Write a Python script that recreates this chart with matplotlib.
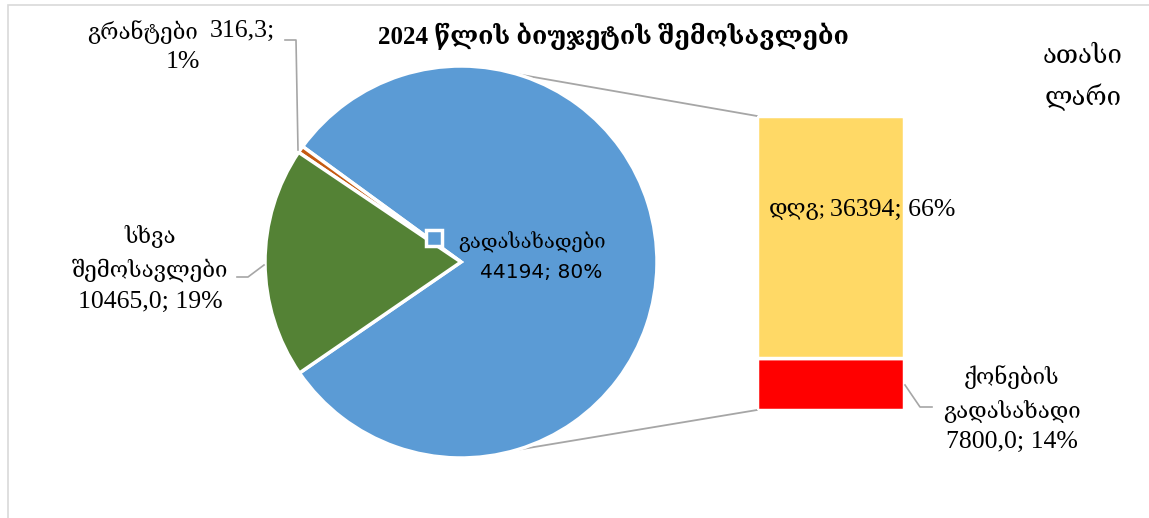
import numpy as np
import matplotlib
matplotlib.use("Agg")
import matplotlib.pyplot as plt
from matplotlib.patches import ConnectionPatch, Rectangle

# ---------------* data *----------------------
pie_labels = ["გადასახადები", "გრანტები", "სხვა შემოსავლები"]
pie_values = [44194, 316.3, 10465.0]
pie_colors = ["#5B9BD5", "#C55A11", "#548235"]

bar_labels = ["ქონების გადასახადი", "დღგ"]
bar_values = [7800.0, 36394]
bar_colors = ["#FF0000", "#FFD966"]

title = "2024 წლის ბიუჯეტის შემოსავლები"
unit = ["ათასი", "ლარი"]

SERIF = ["Liberation Serif", "DejaVu Serif", "DejaVu Sans"]
SANS = ["DejaVu Sans"]
GEO = 16     # size of georgian text
NUM = 18.5   # size of numbers
LEAD = "#A6A6A6"

W, H = 1149, 518
fig = plt.figure(figsize=(W / 100, H / 100), dpi=100)

# main axes in pixel units (y up)
ax = fig.add_axes([0, 0, 1, 1])
ax.set_zorder(2)
cx, cy, r = 461, H - 262, 196
ax.pie(pie_values, colors=pie_colors, startangle=214.5, counterclock=True,
       center=(cx, cy), radius=r,
       wedgeprops=dict(edgecolor="white", linewidth=2.5))
ax.set_xlim(0, W)
ax.set_ylim(0, H)
ax.set_aspect("equal")
ax.axis("off")


def ty(y):
    return H - y


def fmt(v):
    return f"{v:.1f}".replace(".", ",")


def txt(x, y, s, size, ha="center", family=SERIF, **kw):
    ax.text(x, ty(y), s, ha=ha, va="center", fontsize=size, family=family, **kw)


# ---------------* bar part *----------------------
ax2 = fig.add_axes([757 / W, (H - 410) / H, 147 / W, 294 / H])
ax2.set_zorder(1)
bottom = 0
for v, c in zip(bar_values, bar_colors):
    ax2.bar(0, v, bottom=bottom, width=1, color=c, edgecolor="white", linewidth=2.5)
    bottom += v
ax2.set_xlim(-0.5, 0.5)
ax2.set_ylim(0, sum(bar_values))
ax2.axis("off")

# connector lines pie -> bar
for ang, yb in [(73.5, sum(bar_values)), (-73.5, 0)]:
    p = (cx + r * np.cos(np.radians(ang)), cy + r * np.sin(np.radians(ang)))
    con = ConnectionPatch(xyA=p, coordsA=ax.transData, xyB=(-0.5, yb), coordsB=ax2.transData,
                          color=LEAD, linewidth=1.3)
    fig.add_artist(con)

# ---------------* labels *----------------------
total = sum(pie_values)
pct = [round(v / total * 100) for v in pie_values]

txt(613, 36, title, 18, fontweight="bold")
txt(1083, 57, unit[0], 18.5)
txt(1083, 97, unit[1], 18.5)

# taxes label inside the pie
ax.plot([434], [ty(238)], marker="s", ms=11, mfc=pie_colors[0], mec="white", mew=2.5)
txt(532, 243, pie_labels[0], 14.5)
txt(541, 273, f"{pie_values[0]:.0f}; {pct[0]}%", 14.5, family=SANS)

# grants
txt(198, 32, pie_labels[1], GEO, ha="right")
txt(210, 31, fmt(pie_values[1]) + ";", NUM, ha="left")
txt(183, 62, f"{pct[1]}%", NUM)
ax.plot([285, 296, 298], [ty(40), ty(40), ty(150)], color=LEAD, lw=1.2)

# other revenues
g1, g2 = pie_labels[2].split()
txt(150, 236, g1, GEO)
txt(150, 270, g2, GEO)
txt(150, 302, fmt(pie_values[2]) + f"; {pct[2]}%", NUM)
ax.plot([237, 248, 264], [ty(277), ty(277), ty(265)], color=LEAD, lw=1.2)

# bar labels
txt(826, 211, bar_labels[1] + ";", GEO, ha="right")
txt(830, 210, f"{bar_values[1]:.0f}; {round(bar_values[1] / total * 100)}%", NUM, ha="left")
b1, b2 = bar_labels[0].split()
txt(1012, 377, b1, GEO)
txt(1012, 411, b2, GEO)
txt(1012, 442, fmt(bar_values[0]) + f"; {round(bar_values[0] / total * 100)}%", NUM)
ax.plot([905, 920, 932], [ty(385), ty(407), ty(407)], color=LEAD, lw=1.2)

# chart border
fig.add_artist(Rectangle((7.5 / W, -0.1), 1.2, (H - 4.5) / H + 0.1, transform=fig.transFigure,
                         fill=False, edgecolor="#D9D9D9", linewidth=1.2))

fig.savefig("out.png", dpi=100, facecolor="white")
